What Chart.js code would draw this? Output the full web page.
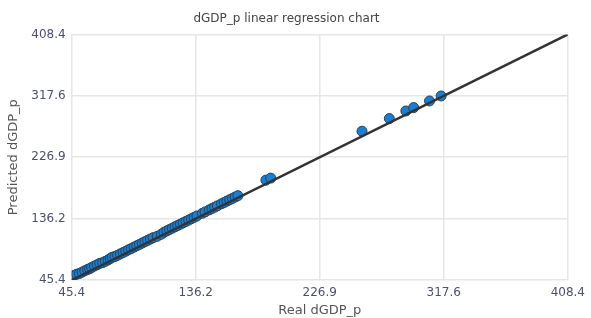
<!DOCTYPE html>
<html>
<head>
<meta charset="utf-8">
<title>dGDP_p linear regression chart</title>
<script src="https://cdn.jsdelivr.net/npm/chart.js@4/dist/chart.umd.min.js"></script>
<style>
    html, body { margin: 0; padding: 0; background: #fff; }
    #wrap { width: 591px; height: 318px; position: relative; }
</style>
</head>
<body>
<div id="wrap"><canvas id="chart"></canvas></div>
<script>
// Real vs predicted dGDP_p values
const realValues = [
    47, 49, 51, 53, 55, 57, 58.5, 60, 62, 64, 66, 68, 70, 72, 73.5, 75, 77, 79, 81, 83,
    85, 87, 89, 91, 93, 95, 97, 99, 101, 103, 105, 108, 111, 113, 115, 117, 119, 121, 123, 125,
    127, 129, 131, 133, 135, 137, 141, 143, 146, 148, 150, 152, 155, 157, 159, 161, 163, 165, 167,
    187.5, 191,
    257.8, 277.8, 289.9, 295.6, 307.2, 315.7
];
const predictedValues = [
    52, 54, 55, 57, 59, 61, 62, 64, 66, 68, 70, 71, 73, 75, 77, 79, 80, 82, 84, 86,
    88, 90, 92, 94, 96, 98, 100, 102, 104, 106, 108, 110, 113, 116, 118, 120, 122, 124, 126, 128,
    130, 132, 134, 136, 138, 140, 144, 146, 149, 151, 153, 155, 158, 160, 162, 164, 166, 168, 170,
    193, 196,
    265.3, 284.0, 295.2, 300.2, 310.0, 317.4
];
const fitLine = [45.4, 408.4];
const tickValues = [45.4, 136.2, 226.9, 317.6, 408.4];

const textFont = "'DejaVu Sans', Verdana, sans-serif";

function setTicks(scale) {
    scale.ticks = tickValues.map(v => ({ value: v }));
}

const ctx = document.getElementById('chart').getContext('2d');
new Chart(ctx, {
    type: 'scatter',
    data: {
        datasets: [
            {
                // regression line, drawn on top of the points
                type: 'line',
                data: fitLine.map(v => ({ x: v, y: v })),
                borderColor: '#333333',
                borderWidth: 2.5,
                pointRadius: 0,
                fill: false
            },
            {
                data: realValues.map((v, i) => ({ x: v, y: predictedValues[i] })),
                backgroundColor: '#1a7fd0',
                borderColor: '#24405e',
                borderWidth: 1,
                pointRadius: 5
            }
        ]
    },
    options: {
        responsive: true,
        maintainAspectRatio: false,
        animation: false,
        layout: { padding: { left: 0, right: 18, top: 0, bottom: 0 } },
        plugins: {
            legend: { display: false },
            tooltip: { enabled: false },
            title: {
                display: true,
                text: 'dGDP_p linear regression chart',
                color: '#444444',
                font: { family: textFont, size: 12, weight: 'normal' },
                padding: { top: 12, bottom: 8 }
            }
        },
        scales: {
            x: {
                type: 'linear',
                min: 45.4,
                max: 408.4,
                afterBuildTicks: setTicks,
                afterFit: function(scale) { scale.height = 38; },
                grid: { color: '#e6e6e6', lineWidth: 1.5, drawTicks: false },
                border: { display: false },
                ticks: {
                    color: '#4a5070',
                    padding: 6,
                    maxRotation: 0,
                    font: { family: textFont, size: 12 },
                    callback: v => v.toFixed(1)
                },
                title: {
                    display: true,
                    text: 'Real dGDP_p',
                    color: '#555555',
                    font: { family: textFont, size: 13 },
                    padding: { top: 0, bottom: 0 }
                }
            },
            y: {
                type: 'linear',
                min: 45.4,
                max: 408.4,
                afterBuildTicks: setTicks,
                afterFit: function(scale) { scale.width = 71.7; },
                grid: { color: '#e6e6e6', lineWidth: 1.5, drawTicks: false },
                border: { display: false },
                ticks: {
                    color: '#4a5070',
                    padding: 6,
                    font: { family: textFont, size: 12 },
                    callback: v => v.toFixed(1)
                },
                title: {
                    display: true,
                    text: 'Predicted dGDP_p',
                    color: '#555555',
                    font: { family: textFont, size: 13 },
                    padding: { top: 6, bottom: 0 }
                }
            }
        }
    }
});
</script>
</body>
</html>
